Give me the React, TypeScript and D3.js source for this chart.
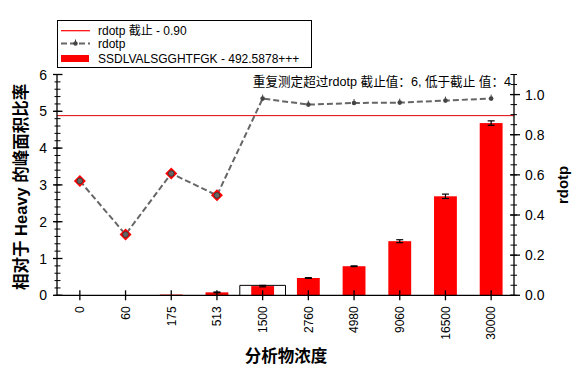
import React from "react";
import * as d3 from "d3";

const categories = ["0", "60", "175", "513", "1500", "2760", "4980", "9060", "16500", "30000"];
const ratioValues = [0, 0, 0.02, 0.08, 0.25, 0.47, 0.79, 1.47, 2.69, 4.68];
const ratioErrors = [0, 0, 0, 0.01, 0.02, 0.01, 0.01, 0.04, 0.06, 0.06];
const rdotpValues = [0.57, 0.303, 0.607, 0.498, 0.98, 0.95, 0.958, 0.96, 0.97, 0.98];
const rdotpCutoff = 0.9;
const highlightCategory = "1500";
const highlightValue = 0.27;
const leftTicks = [0, 1, 2, 3, 4, 5, 6];
const rightTicks = [0, 0.2, 0.4, 0.6, 0.8, 1.0];

const W = 582, H = 376;
const left = 57, right = 514, top = 74.5, bottom = 295.3;
const FONT = "'Liberation Sans', Arial, 'Noto Sans CJK SC', sans-serif";
const CJK = "'Liberation Sans', 'Noto Sans CJK SC', sans-serif";

export default function App() {
  const x = d3.scaleBand<string>().domain(categories).range([left, right]).padding(0);
  const yL = d3.scaleLinear().domain([0, 6]).range([bottom, top]);
  const yR = d3.scaleLinear().domain([0, 1.1]).range([bottom, top]);
  const bw = x.bandwidth() * 0.5;
  const cx = (c: string) => (x(c) as number) + x.bandwidth() / 2;

  const minorL = d3.range(0, 6.0001, 0.2);
  const minorR = d3.range(0, 1.1001, 0.05);

  const line = d3
    .line<number>()
    .x((_, i) => cx(categories[i]))
    .y((d) => yR(d));

  const hx = x(highlightCategory) as number;

  return (
    <svg width={W} height={H} style={{ position: "absolute", left: 0, top: 0, background: "#fff" }} fontFamily={FONT}>
      <rect x={0} y={0} width={W} height={H} fill="#fff" />
      {/* highlight box */}
      <path
        d={`M${hx},${bottom} V${yL(highlightValue)} H${hx + x.bandwidth()} V${bottom}`}
        fill="#fff"
        stroke="#000"
        strokeWidth={1}
      />
      {/* bars */}
      {categories.map((c, i) => (
        <rect
          key={c}
          x={cx(c) - bw / 2}
          y={yL(ratioValues[i])}
          width={bw}
          height={bottom - yL(ratioValues[i])}
          fill="#ff0000"
        />
      ))}
      {/* error bars */}
      {categories.map((c, i) =>
        ratioValues[i] > 0.05 ? (
          <g key={"e" + c} stroke="#000" strokeWidth={1.2}>
            <line x1={cx(c)} x2={cx(c)} y1={yL(ratioValues[i] + ratioErrors[i])} y2={yL(ratioValues[i] - ratioErrors[i])} />
            <line x1={cx(c) - 3.5} x2={cx(c) + 3.5} y1={yL(ratioValues[i] + ratioErrors[i])} y2={yL(ratioValues[i] + ratioErrors[i])} />
            <line x1={cx(c) - 3.5} x2={cx(c) + 3.5} y1={yL(ratioValues[i] - ratioErrors[i])} y2={yL(ratioValues[i] - ratioErrors[i])} />
          </g>
        ) : null
      )}
      {/* cutoff line */}
      <line x1={left} x2={right} y1={yR(rdotpCutoff) + 1} y2={yR(rdotpCutoff) + 1} stroke="#e00000" strokeWidth={1} />
      {/* rdotp line */}
      <path d={line(rdotpValues) || ""} fill="none" stroke="#666" strokeWidth={2} strokeDasharray="6,3" />
      {rdotpValues.map((v, i) => {
        const px = cx(categories[i]);
        const py = yR(v);
        if (v < rdotpCutoff) {
          return (
            <g key={"m" + i}>
              <path d={`M${px},${py - 6} L${px + 6},${py} L${px},${py + 6} L${px - 6},${py} Z`} fill="#ff0000" />
              <circle cx={px} cy={py} r={2.8} fill="#666" stroke="#333" strokeWidth={0.8} />
            </g>
          );
        }
        return (
          <g key={"m" + i}>
            <circle cx={px} cy={py} r={2.3} fill="#444" />
            <line x1={px} x2={px} y1={py - 4} y2={py} stroke="#444" strokeWidth={1} />
          </g>
        );
      })}
      {/* axes */}
      <g stroke="#000" strokeWidth={1.3}>
        <line x1={left} x2={left} y1={top} y2={bottom} />
        <line x1={right} x2={right} y1={top} y2={bottom} />
        <line x1={left} x2={right} y1={bottom} y2={bottom} />
        {minorL.map((t, i) => (
          <line key={"lm" + i} x1={left - 2.5} x2={left + 3.5} y1={yL(t)} y2={yL(t)} strokeWidth={1} />
        ))}
        {leftTicks.map((t) => (
          <line key={"lM" + t} x1={left - 4} x2={left + 5.5} y1={yL(t)} y2={yL(t)} />
        ))}
        {minorR.map((t, i) => (
          <line key={"rm" + i} x1={right - 3.5} x2={right + 3} y1={yR(t)} y2={yR(t)} strokeWidth={1} />
        ))}
        {rightTicks.map((t) => (
          <line key={"rM" + t} x1={right - 4} x2={right + 6} y1={yR(t)} y2={yR(t)} />
        ))}
        {categories.map((c) => (
          <line key={"xt" + c} x1={cx(c)} x2={cx(c)} y1={bottom - 5} y2={bottom + 5} />
        ))}
      </g>
      {/* tick labels */}
      <g fontSize={14} fill="#000">
        {leftTicks.map((t) => (
          <text key={"ll" + t} x={left - 10} y={yL(t)} dy="0.36em" textAnchor="end">
            {t}
          </text>
        ))}
        {rightTicks.map((t) => (
          <text key={"rl" + t} x={right + 11} y={yR(t)} dy="0.36em" textAnchor="start">
            {d3.format(".1f")(t)}
          </text>
        ))}
      </g>
      <g fontSize={12} fill="#000">
        {categories.map((c) => (
          <text key={"xl" + c} transform={`translate(${cx(c)},${bottom + 11}) rotate(-90)`} dy="0.36em" textAnchor="end">
            {c}
          </text>
        ))}
      </g>
      {/* axis titles */}
      <text x={286} y={362} textAnchor="middle" fontSize={16.5} fontWeight="bold" fontFamily={CJK}>
        分析物浓度
      </text>
      <text transform={`translate(21,${(top + bottom) / 2 + 2}) rotate(-90)`} dy="0.36em" textAnchor="middle" fontSize={16.5} fontWeight="bold" fontFamily={CJK}>
        相对于 Heavy 的峰面积比率
      </text>
      <text transform={`translate(563,${(top + bottom) / 2}) rotate(-90)`} dy="0.36em" textAnchor="middle" fontSize={15} fontWeight="bold">
        rdotp
      </text>
      {/* annotation */}
      <text x={511} y={86} textAnchor="end" fontSize={12.6} fontFamily={CJK}>
        重复测定超过rdotp 截止值：6, 低于截止 值：4
      </text>
      {/* legend */}
      <g fontSize={12} fontFamily={CJK}>
        <rect x={57.5} y={20.5} width={254} height={47} fill="#fff" stroke="#000" strokeWidth={1} />
        <line x1={61} x2={90} y1={30.7} y2={30.7} stroke="#ff0000" strokeWidth={1.2} />
        <text x={98} y={30.7} dy="0.36em">rdotp 截止 - 0.90</text>
        <line x1={61} x2={90} y1={43.5} y2={43.5} stroke="#666" strokeWidth={2} strokeDasharray="6,3" />
        <circle cx={75.5} cy={43.5} r={2.2} fill="#444" />
        <line x1={75.5} x2={75.5} y1={39.5} y2={43.5} stroke="#444" strokeWidth={1} />
        <text x={98} y={43.5} dy="0.36em">rdotp</text>
        <rect x={61} y={55} width={28} height={7} fill="#ff0000" />
        <text x={98} y={58.5} dy="0.36em">SSDLVALSGGHTFGK - 492.5878+++</text>
      </g>
    </svg>
  );
}
